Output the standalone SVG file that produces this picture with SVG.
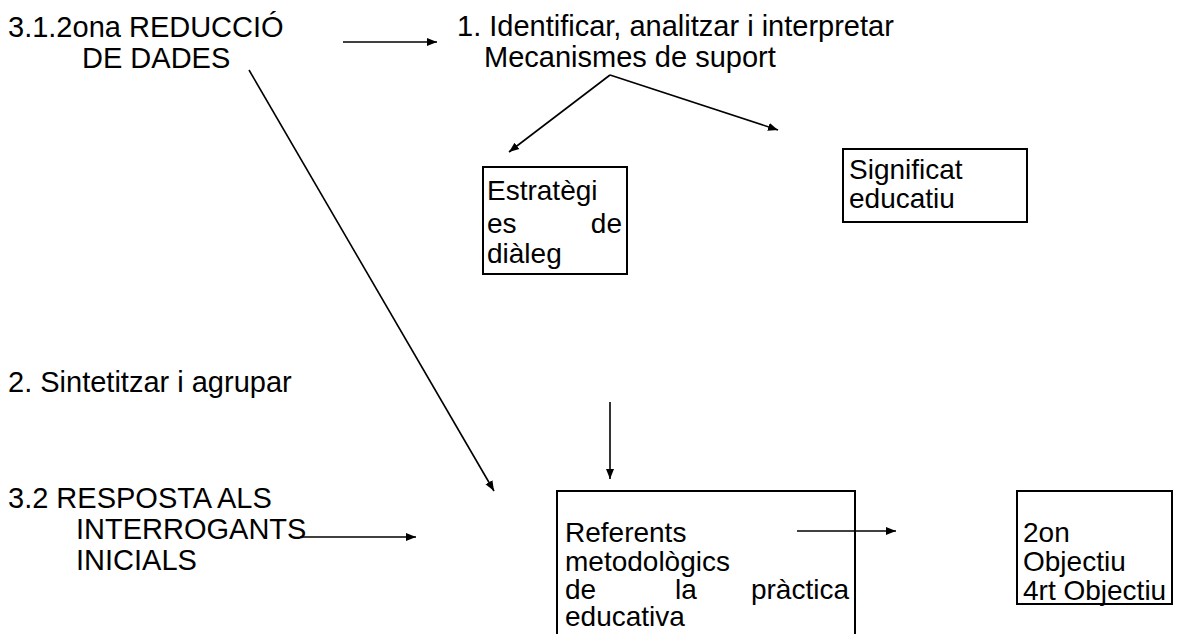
<svg xmlns="http://www.w3.org/2000/svg" width="1182" height="634" viewBox="0 0 1182 634">
<defs>
<style>
text{font-family:"Liberation Sans",Arial,sans-serif;font-size:29px;fill:#000}
.bt{font-size:28px}
.box{fill:#fff;stroke:#000;stroke-width:2}
.c{stroke:#000;stroke-width:1.6;fill:none}
</style>
<marker id="ah" viewBox="0 0 10 10" refX="10" refY="5" markerWidth="10" markerHeight="10" markerUnits="userSpaceOnUse" orient="auto">
<path d="M0,1 L10,5 L0,9 Z" fill="#000"/>
</marker>
</defs>
<rect width="1182" height="634" fill="#fff"/>
<g id="n-reduccio">
<text x="8" y="37">3.1.2ona REDUCCIÓ</text>
<text x="82" y="68">DE DADES</text>
</g>
<g id="n-identificar">
<text x="457" y="36">1. Identificar, analitzar i interpretar</text>
<text x="484" y="67">Mecanismes de suport</text>
</g>
<g id="n-estrategies">
<rect class="box" x="483" y="167" width="144" height="107"/>
<text class="bt" x="487" y="200">Estratègi</text>
<text class="bt" x="487" y="233">es</text>
<text class="bt" x="622" y="233" text-anchor="end">de</text>
<text class="bt" x="487" y="263">diàleg</text>
</g>
<g id="n-significat">
<rect class="box" x="843" y="149" width="184" height="73"/>
<text class="bt" x="849" y="179">Significat</text>
<text class="bt" x="849" y="208">educatiu</text>
</g>
<g id="n-sintetitzar">
<text x="8" y="392">2. Sintetitzar i agrupar</text>
</g>
<g id="n-resposta">
<text x="8" y="508">3.2 RESPOSTA ALS</text>
<text x="76" y="539">INTERROGANTS</text>
<text x="76" y="570">INICIALS</text>
</g>
<g id="n-referents">
<path class="box" d="M557,640 L557,491 L855,491 L855,640"/>
<text class="bt" x="565" y="542">Referents</text>
<text class="bt" x="565" y="571">metodològics</text>
<text class="bt" x="565" y="599">de</text>
<text class="bt" x="675" y="599">la</text>
<text class="bt" x="849" y="599" text-anchor="end">pràctica</text>
<text class="bt" x="565" y="626">educativa</text>
</g>
<g id="n-objectiu">
<rect class="box" x="1017" y="491" width="155" height="113"/>
<text class="bt" x="1023" y="542">2on</text>
<text class="bt" x="1023" y="571">Objectiu</text>
<text class="bt" x="1023" y="600">4rt Objectiu</text>
</g>
<g id="connectors">
<line class="c" x1="343" y1="42" x2="437" y2="42" marker-end="url(#ah)"/>
<line class="c" x1="610" y1="75" x2="509" y2="152" marker-end="url(#ah)"/>
<line class="c" x1="610" y1="75" x2="778" y2="130" marker-end="url(#ah)"/>
<line class="c" x1="249" y1="70" x2="494" y2="491" marker-end="url(#ah)"/>
<line class="c" x1="610" y1="402" x2="610" y2="479" marker-end="url(#ah)"/>
<line class="c" x1="300" y1="537" x2="416" y2="537" marker-end="url(#ah)"/>
<line class="c" x1="797" y1="531" x2="896" y2="531" marker-end="url(#ah)"/>
</g>
</svg>
